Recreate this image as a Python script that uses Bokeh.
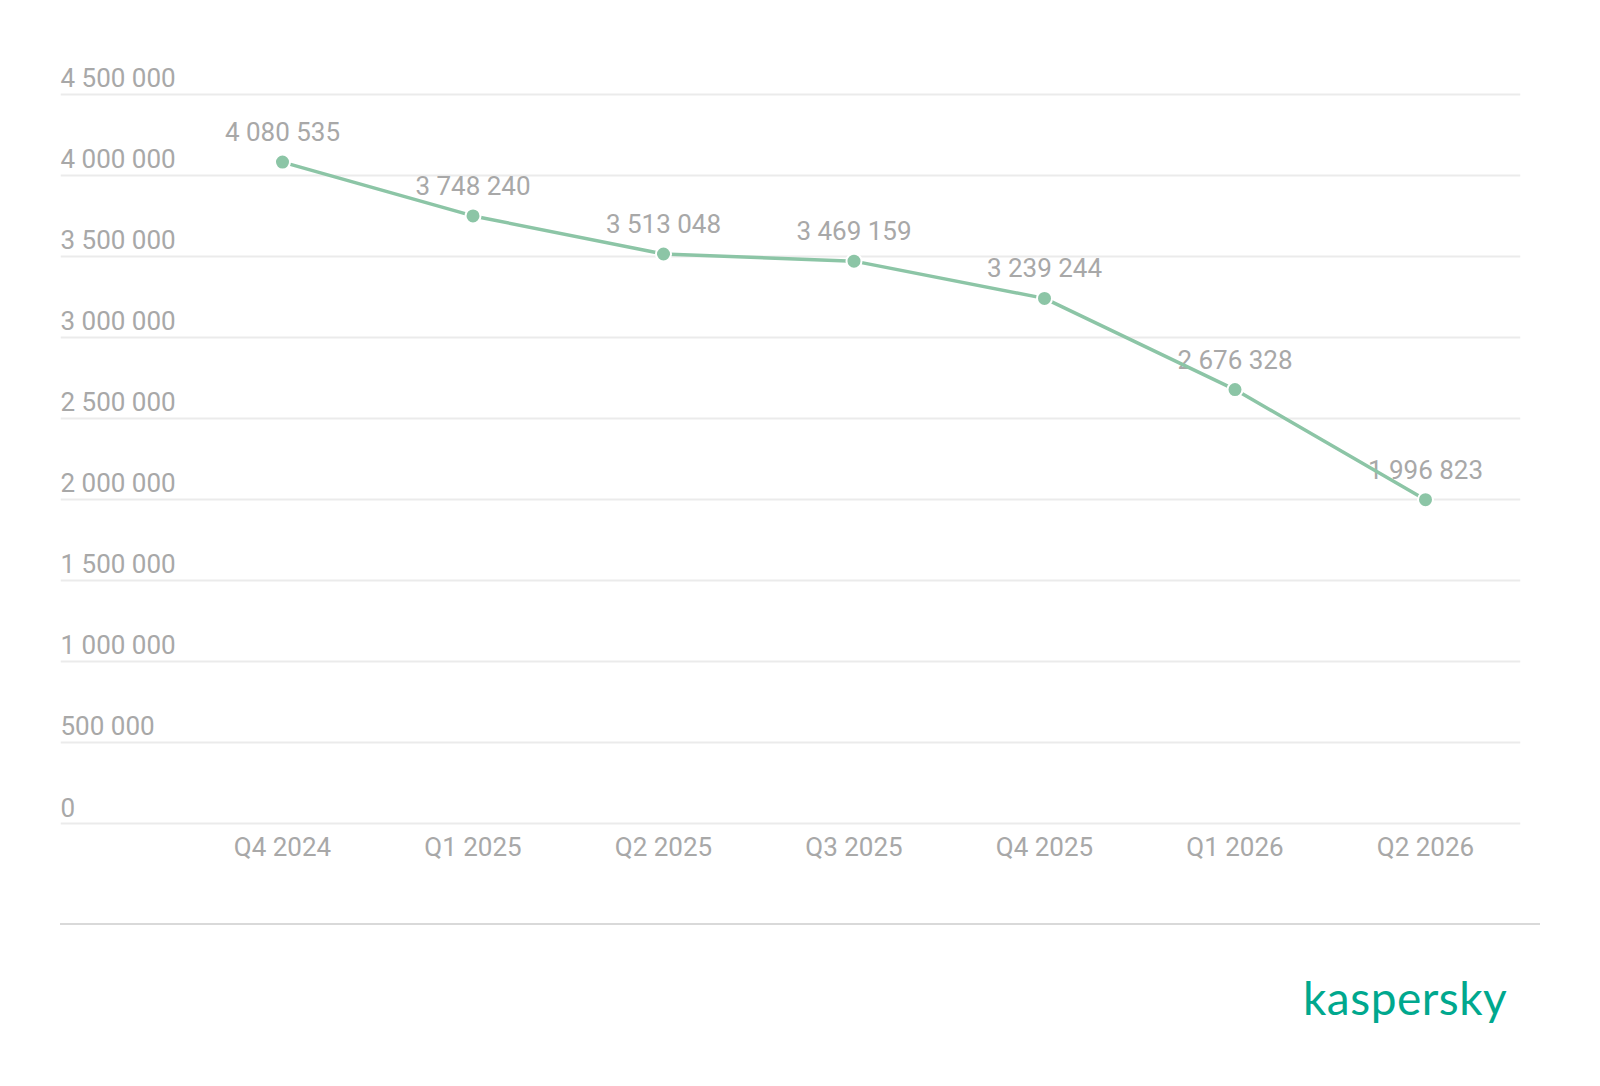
from bokeh.plotting import figure
from bokeh.models import FixedTicker, ColumnDataSource, Div
from bokeh.layouts import column
from bokeh.embed import file_html
from bokeh.resources import INLINE
from bokeh.core.properties import value

categories = ["Q4 2024", "Q1 2025", "Q2 2025", "Q3 2025", "Q4 2025", "Q1 2026", "Q2 2026"]
values = [4080535, 3748240, 3513048, 3469159, 3239244, 2676328, 1996823]
y_ticks = [0, 500000, 1000000, 1500000, 2000000, 2500000, 3000000, 3500000, 4000000, 4500000]
y_tick_labels = ["0", "500 000", "1 000 000", "1 500 000", "2 000 000", "2 500 000",
                 "3 000 000", "3 500 000", "4 000 000", "4 500 000"]

GRAY = "#a8a8a8"
GREEN = "#8cc5a6"
FONT = "Roboto"
FS = "26px"

idx = list(range(len(categories)))
value_labels = [f"{v:,}".replace(",", " ") for v in values]

X0, X1 = -1.1654, 6.4987
p = figure(width=1584, height=880, x_range=(X0, X1), y_range=(-14600, 5078000),
           output_backend="svg", toolbar_location=None,
           min_border_left=60, min_border_right=64, min_border_top=0, min_border_bottom=55)
p.outline_line_color = None
p.background_fill_color = "white"
p.border_fill_color = "white"
p.yaxis.visible = False
p.xgrid.visible = False
p.ygrid.ticker = FixedTicker(ticks=y_ticks)
p.ygrid.grid_line_color = "#ebebeb"
p.ygrid.grid_line_width = 2

xa = p.xaxis[0]
xa.ticker = FixedTicker(ticks=idx)
xa.major_label_overrides = {i: c for i, c in zip(idx, categories)}
xa.axis_line_color = None
xa.major_tick_line_color = None
xa.minor_tick_line_color = None
xa.major_label_standoff = 0
xa.major_label_text_font = FONT
xa.major_label_text_font_size = FS
xa.major_label_text_color = GRAY

# y tick labels drawn inside plot, above gridlines
ysrc = ColumnDataSource(dict(x=[X0] * len(y_ticks), y=y_ticks, t=y_tick_labels))
p.text(x="x", y="y", text="t", source=ysrc, text_font=value(FONT), text_font_size=FS,
       text_color=GRAY, text_align="left", text_baseline="alphabetic", y_offset=-16)

src = ColumnDataSource(dict(x=idx, y=values, t=value_labels))
p.text(x="x", y="y", text="t", source=src, text_font=value(FONT), text_font_size=FS,
       text_color=GRAY, text_align="center", text_baseline="alphabetic", y_offset=-30)
p.line(x="x", y="y", source=src, line_color=GREEN, line_width=3.5)
p.scatter(x="x", y="y", source=src, size=15, fill_color=GREEN, line_color="white", line_width=2)

footer_html = (
    '<div style="position:relative;width:1584px;height:198px;">'
    '<div style="position:absolute;left:55px;top:38px;width:1480px;height:2px;background:#d9d9d9;"></div>'
    '<div style="position:absolute;left:1298px;top:90px;font-family:Lato;font-size:46px;'
    'line-height:1;color:#00a88e;letter-spacing:0.5px;white-space:nowrap;">kaspersky</div>'
    '</div>'
)
footer = Div(text=footer_html, width=1584, height=198)

layout = column(p, footer, spacing=0)
open("out.html", "w").write(file_html(layout, INLINE))
